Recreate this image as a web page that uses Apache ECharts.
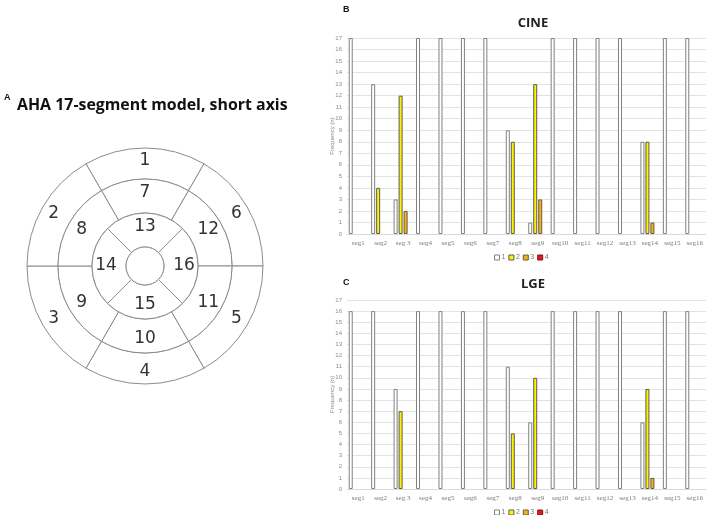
<!DOCTYPE html>
<html>
<head>
<meta charset="utf-8">
<script src="https://cdn.jsdelivr.net/npm/echarts@6/dist/echarts.min.js"></script>
<style>html,body{margin:0;padding:0;background:#fff}#c{width:709px;height:515px}</style>
</head>
<body>
<div id="c"></div>
<script>
var categories = ['seg1','seg2','seg 3','seg4','seg5','seg6','seg7','seg8','seg9','seg10','seg11','seg12','seg13','seg14','seg15','seg16'];
var seriesNames = ['1','2','3','4'];
var cine1 = [17,13,3,17,17,17,17,9,1,17,17,17,17,8,17,17];
var cine2 = [0,4,12,0,0,0,0,8,13,0,0,0,0,8,0,0];
var cine3 = [0,0,2,0,0,0,0,0,3,0,0,0,0,1,0,0];
var cine4 = [0,0,0,0,0,0,0,0,0,0,0,0,0,0,0,0];
var lge1 = [16,16,9,16,16,16,16,11,6,16,16,16,16,6,16,16];
var lge2 = [0,0,7,0,0,0,0,5,10,0,0,0,0,9,0,0];
var lge3 = [0,0,0,0,0,0,0,0,0,0,0,0,0,1,0,0];
var lge4 = [0,0,0,0,0,0,0,0,0,0,0,0,0,0,0,0];
var yTicks = [0,1,2,3,4,5,6,7,8,9,10,11,12,13,14,15,16,17];
// AHA segments, clockwise from the top
var outerRing = ['1','6','5','4','3','2'];
var middleRing = ['7','12','11','10','9','8'];
var innerRing = ['13','16','15','14'];

var fills = ['#ffffff','#fff200','#f5b31b','#e31a1c'];
var borders = ['#808080','#5a5a5a','#6a5a3a','#8a1010'];

var chart = echarts.init(document.getElementById('c'));

function ringData(arr){ return arr.map(function(n){ return {name:n, value:1}; }); }
function pie(radius, arr, start, showLabel){
  return {
    type:'pie', center:[145,266], radius:radius, startAngle:start, clockwise:true,
    silent:true, animation:false,
    itemStyle:{color:'#fff', borderColor:'#8c8c8c', borderWidth:1},
    label:{show:showLabel, position:'inside', formatter:'{b}', color:'#333', fontSize:17, fontFamily:'DejaVu Sans'},
    labelLine:{show:false},
    emphasis:{disabled:true},
    data: ringData(arr)
  };
}

function barSeries(idx, data, ax){
  return {
    type:'bar', name:seriesNames[idx], xAxisIndex:ax, yAxisIndex:ax,
    data:data.map(function(v){ return v === 0 ? '-' : v; }),
    barWidth:4, barGap:'25%', animation:false,
    itemStyle:{color:fills[idx], borderColor:borders[idx], borderWidth:1}
  };
}

function xAx(g){
  return {type:'category', gridIndex:g, data:categories,
    axisLine:{show:true, lineStyle:{color:'#d9d9d9'}}, axisTick:{show:false},
    axisLabel:{color:'#7a7a7a', fontSize:7, fontFamily:'Liberation Serif', margin:6, interval:0}};
}
function yAx(g){
  return {type:'value', gridIndex:g, min:0, max:17, interval:1,
    name:'Frequency (n)', nameLocation:'middle', nameGap:12, nameRotate:90, nameMoveOverlap:false,
    nameTextStyle:{color:'#8a8a8a', fontSize:6, fontFamily:'Liberation Sans'},
    axisLine:{show:false}, axisTick:{show:false},
    axisLabel:{color:'#8a8a8a', fontSize:6, margin:5, formatter:function(v){return yTicks.indexOf(v)>=0?String(v):'';}},
    splitLine:{show:true, lineStyle:{color:'#e3e3e3', width:1}}};
}

var legendData = seriesNames.map(function(n,i){ return {name:n, itemStyle:{color:fills[i], borderColor:borders[i], borderWidth:1}}; });

var option = {
  backgroundColor:'#fff',
  animation:false,
  title:[
    {text:'A', left:-1, top:88, textStyle:{fontSize:9, fontWeight:'bold', color:'#111', fontFamily:'Liberation Sans'}},
    {text:'AHA 17-segment model, short axis', left:12, top:92, textStyle:{fontSize:15.9, fontWeight:'bold', color:'#111', fontFamily:'Open Sans'}},
    {text:'B', left:338, top:0, textStyle:{fontSize:9, fontWeight:'bold', color:'#111', fontFamily:'Liberation Sans'}},
    {text:'CINE', left:528, textAlign:'center', top:12, textStyle:{fontSize:13, fontWeight:'bold', color:'#222', fontFamily:'Open Sans'}},
    {text:'C', left:338, top:273, textStyle:{fontSize:9, fontWeight:'bold', color:'#111', fontFamily:'Liberation Sans'}},
    {text:'LGE', left:528, textAlign:'center', top:273, textStyle:{fontSize:13, fontWeight:'bold', color:'#222', fontFamily:'Open Sans'}}
  ],
  legend:[
    {data:legendData, left:494, top:254, padding:0, itemWidth:5, itemHeight:5, itemGap:3, icon:'rect', selectedMode:false,
     textStyle:{fontSize:7, color:'#777', padding:[0,0,0,-3]}},
    {data:legendData, left:494, top:509, padding:0, itemWidth:5, itemHeight:5, itemGap:3, icon:'rect', selectedMode:false,
     textStyle:{fontSize:7, color:'#777', padding:[0,0,0,-3]}}
  ],
  grid:[
    {left:347, right:3, top:38, bottom:281, containLabel:false},
    {left:347, right:3, top:300, bottom:26, containLabel:false}
  ],
  xAxis:[xAx(0), xAx(1)],
  yAxis:[yAx(0), yAx(1)],
  series:[
    barSeries(0,cine1,0), barSeries(1,cine2,0), barSeries(2,cine3,0), barSeries(3,cine4,0),
    barSeries(0,lge1,1), barSeries(1,lge2,1), barSeries(2,lge3,1), barSeries(3,lge4,1),
    pie([87,118], outerRing, 120, true),
    pie([53,87], middleRing, 120, true),
    pie([19,53], innerRing, 135, true),
    pie([0,19], [''], 90, false)
  ]
};
chart.setOption(option);
</script>
</body>
</html>
